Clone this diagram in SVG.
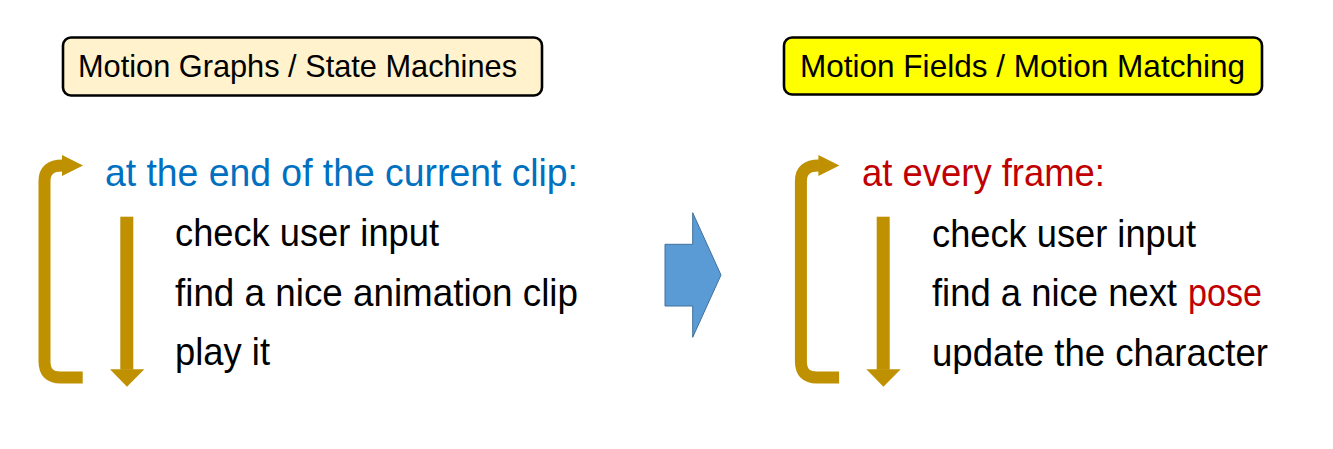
<svg xmlns="http://www.w3.org/2000/svg" width="1333" height="449" viewBox="0 0 1333 449">
<style>
.box{stroke:#000;stroke-width:2.6}
.t{font-family:"Liberation Sans",Arial,sans-serif}
.hd{font-size:30.5px;fill:#000}
.main{font-size:38.5px;fill:#000}
.loop{fill:none;stroke:#bf9000;stroke-width:12}
.gold{fill:#bf9000}
</style>
<defs>
<g id="loopArrows">
<path class="loop" d="M82.7 377.5 H60.5 Q44.5 377.5 44.5 361.5 V181 Q44.5 165.5 62.5 165.5"/>
<polygon class="gold" points="62,155 83,165.5 62,176"/>
<rect class="gold" x="120.3" y="216.7" width="13" height="153"/>
<polygon class="gold" points="110,369.3 144.3,369.3 127,386.7"/>
</g>
</defs>
<rect width="1333" height="449" fill="#fff"/>
<g id="left-title">
<rect class="box" x="63" y="37.5" width="479" height="58" rx="8" fill="#fff2cc"/>
<text class="t hd" x="78" y="77" textLength="439" lengthAdjust="spacingAndGlyphs">Motion Graphs / State Machines</text>
</g>
<g id="right-title">
<rect class="box" x="784" y="37.5" width="478" height="57" rx="8" fill="#ffff00"/>
<text class="t hd" x="800" y="77" textLength="445" lengthAdjust="spacingAndGlyphs">Motion Fields / Motion Matching</text>
</g>
<g id="connectors">
<use href="#loopArrows"/>
<use href="#loopArrows" transform="translate(756.4,0)"/>
<polygon id="transition-arrow" points="665,244.3 692.7,244.3 692.7,212.7 721,275 692.7,337.3 692.7,306 665,306" fill="#5b9bd5" stroke="#41719c" stroke-width="1"/>
</g>
<g id="left-steps">
<text class="t main" x="105" y="186" style="fill:#0070c0" textLength="473" lengthAdjust="spacingAndGlyphs">at the end of the current clip:</text>
<text class="t main" x="175" y="246" textLength="264" lengthAdjust="spacingAndGlyphs">check user input</text>
<text class="t main" x="175" y="305.5" textLength="403" lengthAdjust="spacingAndGlyphs">find a nice animation clip</text>
<text class="t main" x="175" y="365" textLength="95" lengthAdjust="spacingAndGlyphs">play it</text>
</g>
<g id="right-steps">
<text class="t main" x="862" y="185.5" style="fill:#c00000" textLength="243" lengthAdjust="spacingAndGlyphs">at every frame:</text>
<text class="t main" x="932" y="246.5" textLength="264" lengthAdjust="spacingAndGlyphs">check user input</text>
<text class="t main" x="932" y="306" textLength="245" lengthAdjust="spacingAndGlyphs">find a nice next</text>
<text class="t main" x="1188" y="306" style="fill:#c00000" textLength="74" lengthAdjust="spacingAndGlyphs">pose</text>
<text class="t main" x="932" y="365.5" textLength="336" lengthAdjust="spacingAndGlyphs">update the character</text>
</g>
</svg>
